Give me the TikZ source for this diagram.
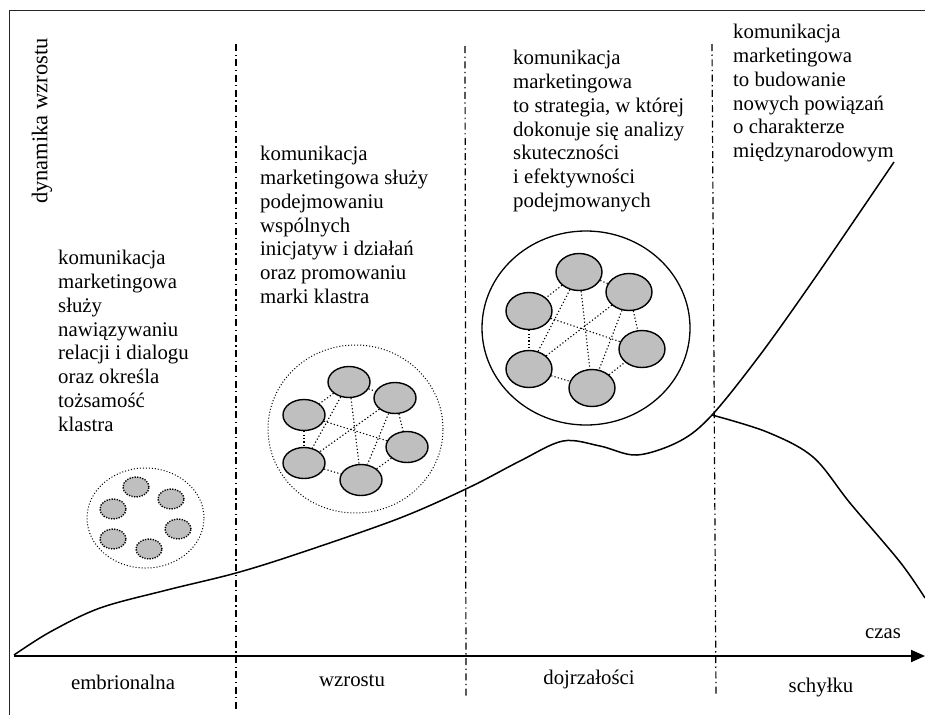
\documentclass[tikz,border=0pt]{standalone}
\usepackage{fontspec}
\setmainfont{Liberation Serif}
\usetikzlibrary{shapes.geometric,arrows.meta}
\definecolor{cellgray}{RGB}{191,191,191}
\tikzset{
  txt/.style={font=\fontsize{20.8}{23.8}\selectfont, align=left, anchor=north west, inner sep=0pt},
  lab/.style={font=\fontsize{20.8}{23.8}\selectfont, inner sep=0pt},
  phase/.style={line width=1.2pt, dash pattern=on 7pt off 3.5pt on 1.3pt off 3.5pt},
  bigdot/.style={draw, ellipse, line width=1pt, dash pattern=on 1pt off 2pt, inner sep=0pt},
  bigsolid/.style={draw, ellipse, line width=1.3pt, inner sep=0pt},
  cellA/.style={draw, ellipse, fill=cellgray, line width=1.4pt, dash pattern=on 1.3pt off 1.3pt, minimum width=26pt, minimum height=20pt, inner sep=0pt},
  cellB/.style={draw, ellipse, fill=cellgray, line width=1.4pt, minimum width=42pt, minimum height=31pt, inner sep=0pt},
  cellC/.style={draw, ellipse, fill=cellgray, line width=1.4pt, minimum width=46pt, minimum height=37pt, inner sep=0pt},
  link/.style={line width=1.1pt, dash pattern=on 1.2pt off 2.2pt},
  curve/.style={line width=1.5pt, line join=round},
}
\begin{document}
\begin{tikzpicture}[x=1pt,y=-1pt]
\useasboundingbox (0,0) rectangle (925,715);
% frame
\draw[line width=1pt, black!85] (9,715) -- (9,10) -- (925,10);
% phase separators
\coordinate (s1t) at (236,44); \coordinate (s1b) at (236,712);
\coordinate (s2t) at (465,46); \coordinate (s2b) at (466,697);
\coordinate (s3t) at (712,44); \coordinate (s3b) at (716,696);
\draw[phase] (s1t) -- (s1b);
\draw[phase] (s2t) -- (s2b);
\draw[phase] (s3t) -- (s3b);
% axis
\coordinate (o) at (14,656);
\coordinate (xend) at (925,656);
\draw[line width=2pt, -{Triangle[length=14pt,width=12pt]}] (o) -- (xend);
% labels
\node[lab, font=\fontsize{22.5}{26}\selectfont, rotate=90] (ylab) at (42,121) {dynamika wzrostu};
\node[lab] (czas) at (883,634) {czas};
\node[lab] (p1) at (123,682) {embrionalna};
\node[lab] (p2) at (352,681) {wzrostu};
\node[lab] (p3) at (589,679) {dojrzałości};
\node[lab] (p4) at (821,688) {schyłku};
% texts
\node[txt] (t1) at (58,250) {komunikacja\\marketingowa\\służy\\nawiązywaniu\\relacji i dialogu\\oraz określa\\tożsamość\\klastra};
\node[txt] (t2) at (260,146) {komunikacja\\marketingowa służy\\podejmowaniu\\wspólnych\\inicjatyw i działań\\oraz promowaniu\\marki klastra};
\node[txt] (t3) at (513,50) {komunikacja\\marketingowa\\to strategia, w której\\dokonuje się analizy\\skuteczności\\i efektywności\\podejmowanych};
\node[txt] (t4) at (733,24) {komunikacja\\marketingowa\\to budowanie\\nowych powiązań\\o charakterze\\międzynarodowym};
% curve
\draw[curve] plot[smooth, tension=0.55] coordinates {(14,655) (50,632) (100,608) (167,590) (236,573) (300,553) (400,518) (470,487) (520,461) (563,441) (600,446) (637,455) (680,441) (712,415) (760,355) (810,285) (860,212) (894,162)};
\draw[curve] plot[smooth, tension=0.55] coordinates {(712,415) (767,432) (813,457) (850,503) (900,562) (925,598)};
% cluster 1
\node[bigdot, minimum width=117pt, minimum height=100pt] (c1) at (145.5,518) {};
\node[cellA] (a1) at (136,487) {};
\node[cellA] (a2) at (171,499) {};
\node[cellA] (a3) at (113,509) {};
\node[cellA] (a4) at (178,529) {};
\node[cellA] (a5) at (113,539) {};
\node[cellA] (a6) at (149,549) {};
% cluster 2
\node[bigdot, minimum width=175pt, minimum height=168pt] (c2) at (355.5,429) {};
\node[cellB] (b1) at (349,382) {};
\node[cellB] (b2) at (395,398) {};
\node[cellB] (b3) at (304,415) {};
\node[cellB] (b4) at (407,447) {};
\node[cellB] (b5) at (304,463) {};
\node[cellB] (b6) at (361,480) {};
\foreach \u/\v in {b1/b3,b1/b2,b2/b4,b3/b5,b5/b6,b6/b4,b1/b5,b1/b6,b2/b5,b2/b6,b3/b4}
  \draw[link] (\u) -- (\v);
% cluster 3
\node[bigsolid, minimum width=208pt, minimum height=194pt] (c3) at (586,328) {};
\node[cellC] (d1) at (579,272) {};
\node[cellC] (d2) at (629,292) {};
\node[cellC] (d3) at (529,311) {};
\node[cellC] (d4) at (642,349) {};
\node[cellC] (d5) at (529,369) {};
\node[cellC] (d6) at (592,388) {};
\foreach \u/\v in {d1/d3,d1/d2,d2/d4,d3/d5,d5/d6,d6/d4,d1/d5,d1/d6,d2/d5,d2/d6,d3/d4}
  \draw[link] (\u) -- (\v);
\end{tikzpicture}
\end{document}
